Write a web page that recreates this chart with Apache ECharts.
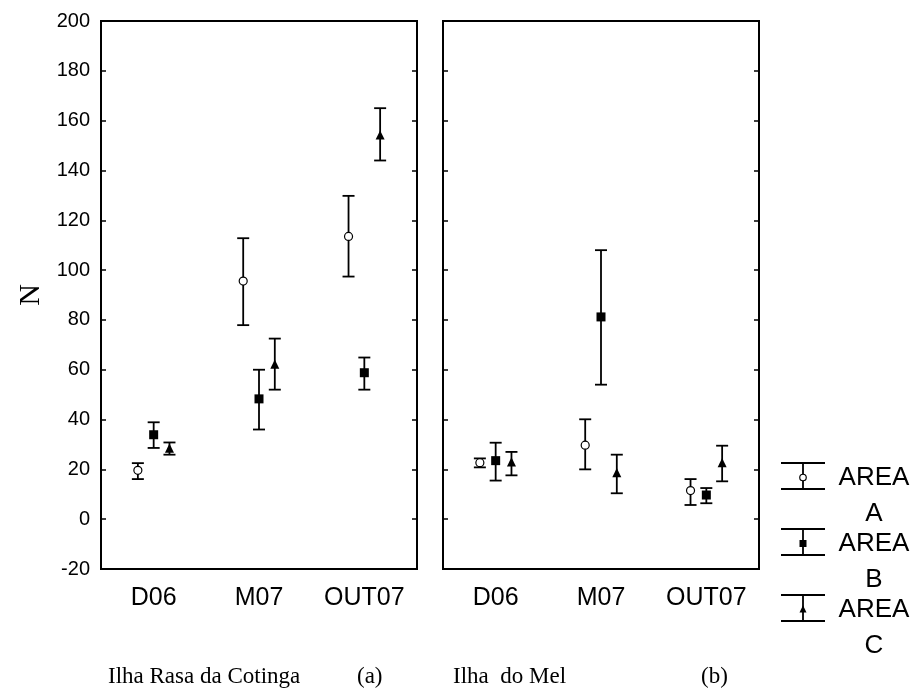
<!DOCTYPE html>
<html>
<head>
<meta charset="utf-8">
<script src="https://cdn.jsdelivr.net/npm/echarts@6/dist/echarts.min.js"></script>
<style>
  html, body { margin: 0; padding: 0; background: #fff; }
  #main { width: 917px; height: 695px; }
</style>
</head>
<body>
<div id="main"></div>
<script>
'use strict';

// 类别和坐标轴
var categories = ['D06', 'M07', 'OUT07'];
var yMin = -20, yMax = 200, yStep = 20;

// Ilha Rasa da Cotinga (a)
var rasaA = [19.6, 95.6, 113.5];
var rasaALow = [16.1, 77.9, 97.4];
var rasaAHigh = [22.5, 112.8, 129.8];
var rasaB = [33.9, 48.3, 58.8];
var rasaBLow = [28.6, 36, 52];
var rasaBHigh = [38.9, 60, 64.9];
var rasaC = [28.2, 61.9, 153.9];
var rasaCLow = [25.9, 52, 144];
var rasaCHigh = [30.8, 72.5, 165];

// Ilha do Mel (b)
var melA = [22.7, 29.7, 11.5];
var melALow = [20.8, 20, 5.7];
var melAHigh = [24.4, 40.1, 16.1];
var melB = [23.5, 81.2, 9.7];
var melBLow = [15.5, 54, 6.4];
var melBHigh = [30.7, 108, 12.5];
var melC = [22.7, 18.4, 22.4];
var melCLow = [17.6, 10.4, 15.2];
var melCHigh = [27, 25.9, 29.5];

var legendNames = ['AREA\nA', 'AREA\nB', 'AREA\nC'];

var black = '#000';
var sansFont = '"Liberation Sans", Arial, sans-serif';
var serifFont = '"Liberation Serif", "Times New Roman", serif';

// 标记形状
function markerShape(shape, x, y, s) {
    if (shape === 'circle') {
        return { type: 'circle', shape: { cx: x, cy: y, r: s / 2 }, style: { fill: '#fff', stroke: black, lineWidth: 1.2 } };
    }
    if (shape === 'square') {
        return { type: 'rect', shape: { x: x - s / 2, y: y - s / 2, width: s, height: s }, style: { fill: black } };
    }
    return { type: 'polygon', shape: { points: [[x, y - s * 0.6], [x - s / 2, y + s * 0.42], [x + s / 2, y + s * 0.42]] }, style: { fill: black } };
}

// 误差棒系列
function errorSeries(gridIdx, vals, lows, highs, shape, offset) {
    var data = [];
    for (var i = 0; i < vals.length; i++) {
        data.push([i, vals[i], lows[i], highs[i]]);
    }
    return {
        type: 'custom',
        xAxisIndex: gridIdx,
        yAxisIndex: gridIdx * 2,
        data: data,
        silent: true,
        renderItem: function(params, api) {
            var cat = api.value(0);
            var p = api.coord([cat, api.value(1)]);
            var pl = api.coord([cat, api.value(2)]);
            var ph = api.coord([cat, api.value(3)]);
            var band = api.size([1, 0])[0];
            var x = p[0] + offset * band;
            var cap = 6;
            var lineStyle = { stroke: black, lineWidth: 1.8 };
            return {
                type: 'group',
                children: [
                    { type: 'line', shape: { x1: x, y1: ph[1], x2: x, y2: pl[1] }, style: lineStyle },
                    { type: 'line', shape: { x1: x - cap, y1: ph[1], x2: x + cap, y2: ph[1] }, style: lineStyle },
                    { type: 'line', shape: { x1: x - cap, y1: pl[1], x2: x + cap, y2: pl[1] }, style: lineStyle },
                    markerShape(shape, x, p[1], shape === 'circle' ? 8 : 9)
                ]
            };
        }
    };
}

function xAxisOf(gridIdx) {
    return {
        type: 'category',
        gridIndex: gridIdx,
        data: categories,
        boundaryGap: true,
        axisLine: { onZero: false, lineStyle: { color: black, width: 2 } },
        axisTick: { alignWithLabel: true, inside: true, length: 5, lineStyle: { color: black, width: 1.5 } },
        axisLabel: { color: black, fontSize: 25, fontFamily: sansFont, margin: 17 },
        splitLine: { show: false }
    };
}

function yAxisOf(gridIdx, pos, withLabels) {
    return {
        type: 'value',
        gridIndex: gridIdx,
        position: pos,
        min: yMin,
        max: yMax,
        interval: yStep,
        name: withLabels ? 'N' : '',
        nameLocation: 'middle',
        nameRotate: 90,
        nameGap: 55,
        nameTextStyle: { color: black, fontFamily: serifFont, fontSize: 30 },
        axisLine: { show: true, onZero: false, lineStyle: { color: black, width: 2 } },
        axisTick: { show: true, inside: true, length: 5, lineStyle: { color: black, width: 1.5 } },
        axisLabel: { show: withLabels, color: black, fontSize: 20, fontFamily: sansFont, margin: 11 },
        splitLine: { show: false }
    };
}

// 图例（误差棒图标）
function legendGraphics() {
    var shapes = ['circle', 'square', 'triangle'];
    var items = [];
    for (var i = 0; i < legendNames.length; i++) {
        var top = 463 + i * 66;
        var bottom = top + 26;
        var mid = top + 14.5;
        var cx = 803;
        var ls = { stroke: black, lineWidth: 1.8 };
        items.push({ type: 'line', shape: { x1: 781, y1: top, x2: 825, y2: top }, style: ls });
        items.push({ type: 'line', shape: { x1: 781, y1: bottom, x2: 825, y2: bottom }, style: ls });
        items.push({ type: 'line', shape: { x1: cx, y1: top, x2: cx, y2: bottom }, style: ls });
        items.push(markerShape(shapes[i], cx, mid, shapes[i] === 'circle' ? 6.5 : 7));
        items.push({
            type: 'text',
            x: 874,
            y: mid - 18,
            style: {
                text: legendNames[i],
                fill: black,
                font: '26px ' + sansFont,
                align: 'center',
                verticalAlign: 'top',
                lineHeight: 36
            }
        });
    }
    return items;
}

var titleStyle = { color: black, fontFamily: serifFont, fontSize: 23, fontWeight: 'normal' };

var option = {
    backgroundColor: '#fff',
    animation: false,
    grid: [
        { left: 101, top: 21, width: 316, height: 548, show: true, borderColor: black, borderWidth: 2, backgroundColor: 'transparent' },
        { left: 443, top: 21, width: 316, height: 548, show: true, borderColor: black, borderWidth: 2, backgroundColor: 'transparent' }
    ],
    title: [
        { text: 'Ilha Rasa da Cotinga', left: 103, top: 660, textStyle: titleStyle },
        { text: '(a)', left: 352, top: 660, textStyle: titleStyle },
        { text: 'Ilha  do Mel', left: 448, top: 660, textStyle: titleStyle },
        { text: '(b)', left: 696, top: 660, textStyle: titleStyle }
    ],
    xAxis: [xAxisOf(0), xAxisOf(1)],
    yAxis: [
        yAxisOf(0, 'left', true),
        yAxisOf(0, 'right', false),
        yAxisOf(1, 'left', false),
        yAxisOf(1, 'right', false)
    ],
    series: [
        errorSeries(0, rasaA, rasaALow, rasaAHigh, 'circle', -0.15),
        errorSeries(0, rasaB, rasaBLow, rasaBHigh, 'square', 0),
        errorSeries(0, rasaC, rasaCLow, rasaCHigh, 'triangle', 0.15),
        errorSeries(1, melA, melALow, melAHigh, 'circle', -0.15),
        errorSeries(1, melB, melBLow, melBHigh, 'square', 0),
        errorSeries(1, melC, melCLow, melCHigh, 'triangle', 0.15)
    ],
    graphic: legendGraphics()
};

var myChart = echarts.init(document.getElementById('main'), null, { renderer: 'canvas' });
myChart.setOption(option);
</script>
</body>
</html>
